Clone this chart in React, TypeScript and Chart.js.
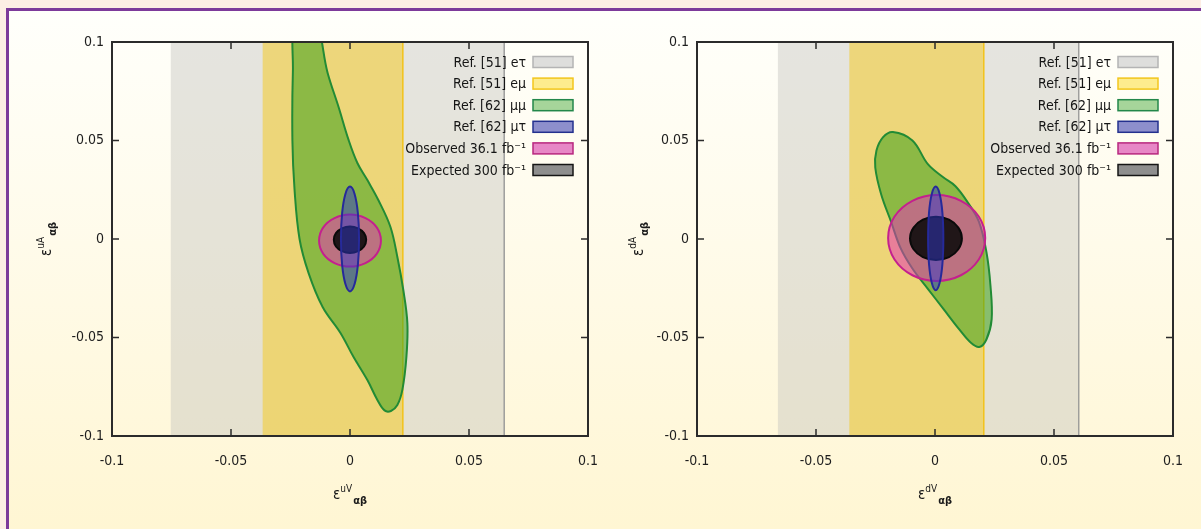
import { useEffect, useRef } from 'react';
import { Chart, registerables } from 'chart.js';

Chart.register(...registerables);

const FONT = '"DejaVu Sans Condensed", "Liberation Sans Narrow", "DejaVu Sans", sans-serif';

// ---- axis ticks ----
const xTickValues = [-0.1, -0.05, 0, 0.05, 0.1];
const xTickLabels = ['-0.1', '-0.05', '0', '0.05', '0.1'];
const yTickValues = [-0.1, -0.05, 0, 0.05, 0.1];
const yTickLabels = ['-0.1', '-0.05', '0', '0.05', '0.1'];
const innerTickValues = [-0.05, 0, 0.05];

// ---- series names ----
const seriesLabels = [
  'Ref. [51] eτ',
  'Ref. [51] eμ',
  'Ref. [62] μμ',
  'Ref. [62] μτ',
  'Observed 36.1 fb⁻¹',
  'Expected 300 fb⁻¹',
];
const swatchFill = ['#dededc', '#fdec8e', '#a6d59a', '#8d8fcc', '#e787c6', '#8e8e8e'];
const swatchEdge = ['#b4b4b4', '#f3c61c', '#23874a', '#23308e', '#b8277f', '#151515'];

// ---- left panel (u quark) ----
const leftBandET = [-0.0753, 0.0648];
const leftBandEMu = [-0.0367, 0.0222];
const leftMuMu = [
  [-0.0228, 0.112], [-0.024, 0.085], [-0.0242, 0.05], [-0.0233, 0.025], [-0.0212, 0.0],
  [-0.0174, -0.0173], [-0.0115, -0.0345], [-0.004, -0.0477], [0.0015, -0.0599], [0.0073, -0.0716],
  [0.0115, -0.0817], [0.0145, -0.087], [0.0172, -0.0873], [0.0199, -0.0843], [0.022, -0.0766],
  [0.0237, -0.0599], [0.0241, -0.0426], [0.0224, -0.0259], [0.0199, -0.0091], [0.017, 0.0061],
  [0.0119, 0.0198], [0.0073, 0.0299], [0.0031, 0.0386], [-0.0006, 0.0503], [-0.0048, 0.067],
  [-0.0094, 0.0843], [-0.015, 0.112],
];
const leftMuTau = [
  [0.0038, 0], [0.0033, 0.0133], [0.0019, 0.023], [0, 0.0266], [-0.0019, 0.023], [-0.0033, 0.0133],
  [-0.0038, 0], [-0.0033, -0.0133], [-0.0019, -0.023], [0, -0.0266], [0.0019, -0.023], [0.0033, -0.0133],
];
const leftObserved = [
  [0.013, -0.0008], [0.0113, 0.0058], [0.0065, 0.0106], [0, 0.0124], [-0.0065, 0.0106], [-0.0113, 0.0058],
  [-0.013, -0.0008], [-0.0113, -0.0074], [-0.0065, -0.0122], [0, -0.014], [0.0065, -0.0122], [0.0113, -0.0074],
];
const leftExpected = [
  [0.0068, -0.0004], [0.0059, 0.003], [0.0034, 0.0054], [0, 0.0063], [-0.0034, 0.0054], [-0.0059, 0.003],
  [-0.0068, -0.0004], [-0.0059, -0.0038], [-0.0034, -0.0062], [0, -0.0071], [0.0034, -0.0062], [0.0059, -0.0038],
];

// ---- right panel (d quark) ----
const rightBandET = [-0.066, 0.0604];
const rightBandEMu = [-0.036, 0.0205];
const rightMuMu = [
  [-0.0177, 0.0543], [-0.0095, 0.05], [-0.003, 0.038], [0.0036, 0.0312], [0.0085, 0.0269],
  [0.0134, 0.0192], [0.0184, 0.0089], [0.0216, -0.0065], [0.0233, -0.0236], [0.0238, -0.0408],
  [0.0216, -0.051], [0.0186, -0.0548], [0.0151, -0.0527], [0.0102, -0.0459], [0.0036, -0.0356],
  [-0.003, -0.0253], [-0.0095, -0.015], [-0.0144, -0.0048], [-0.0185, 0.0089], [-0.0226, 0.0226],
  [-0.0251, 0.0363], [-0.0246, 0.0449], [-0.0218, 0.0517],
];
const rightMuTau = [
  [0.0035, 0.0003], [0.0031, 0.0135], [0.0019, 0.0231], [0.0003, 0.0266], [-0.0013, 0.0231], [-0.0025, 0.0135],
  [-0.0029, 0.0003], [-0.0025, -0.0129], [-0.0013, -0.0225], [0.0003, -0.026], [0.0019, -0.0225], [0.0031, -0.0129],
];
const rightObserved = [
  [0.0211, 0.0005], [0.0184, 0.0114], [0.0109, 0.0194], [0.0007, 0.0223], [-0.0095, 0.0194], [-0.017, 0.0114],
  [-0.0197, 0.0005], [-0.017, -0.0104], [-0.0095, -0.0184], [0.0007, -0.0213], [0.0109, -0.0184], [0.0184, -0.0104],
];
const rightExpected = [
  [0.0113, 0.0003], [0.0098, 0.0058], [0.0059, 0.0098], [0.0004, 0.0113], [-0.0051, 0.0098], [-0.009, 0.0058],
  [-0.0105, 0.0003], [-0.009, -0.0052], [-0.0051, -0.0092], [0.0004, -0.0107], [0.0059, -0.0092], [0.0098, -0.0052],
];

type Pt = number[];
type PanelData = {
  bandET: number[];
  bandEMu: number[];
  muMu: Pt[];
  muTau: Pt[];
  observed: Pt[];
  expected: Pt[];
  xSup: string;
  ySup: string;
  yTitleX: number;
};

const panels: PanelData[] = [
  { bandET: leftBandET, bandEMu: leftBandEMu, muMu: leftMuMu, muTau: leftMuTau, observed: leftObserved, expected: leftExpected, xSup: 'uV', ySup: 'uA', yTitleX: 46 },
  { bandET: rightBandET, bandEMu: rightBandEMu, muMu: rightMuMu, muTau: rightMuTau, observed: rightObserved, expected: rightExpected, xSup: 'dV', ySup: 'dA', yTitleX: 53 },
];

function band(range: number[], label: string, fill: string, order: number) {
  return {
    label,
    data: [
      { x: range[0], y: -0.1 },
      { x: range[1], y: -0.1 },
      { x: range[1], y: 0.1 },
      { x: range[0], y: 0.1 },
    ],
    backgroundColor: fill,
    borderColor: 'rgba(0,0,0,0)',
    borderWidth: 0,
    fill: 'shape',
    tension: 0,
    pointRadius: 0,
    order,
  };
}

function bandEdge(range: number[], label: string, edge: string, order: number) {
  return {
    label,
    data: [
      { x: range[1], y: -0.1 },
      { x: range[1], y: 0.1 },
    ],
    borderColor: edge,
    borderWidth: 1.5,
    fill: false,
    tension: 0,
    pointRadius: 0,
    order,
  };
}

function contour(pts: Pt[], label: string, fill: string, edge: string, order: number) {
  return {
    label,
    data: pts.map(([x, y]) => ({ x, y })),
    backgroundColor: fill,
    borderColor: edge,
    borderWidth: 2,
    fill: 'shape',
    tension: 0.37,
    capBezierPoints: false,
    pointRadius: 0,
    order,
  };
}

const closedLoops = {
  id: 'closedLoops',
  afterDatasetsUpdate(chart: any) {
    chart.data.datasets.forEach((_d: any, i: number) => {
      const line = chart.getDatasetMeta(i).dataset;
      if (line) {
        line._loop = true;
        line._fullLoop = true;
        line._segments = undefined;
        line._path = undefined;
        line._pointsUpdated = false;
      }
    });
  },
};

function drawTitle(ctx: CanvasRenderingContext2D, cx: number, cy: number, rotate: boolean, sup: string) {
  ctx.save();
  ctx.translate(cx, cy);
  if (rotate) ctx.rotate(-Math.PI / 2);
  ctx.fillStyle = '#1a1a1a';
  ctx.textBaseline = 'alphabetic';
  ctx.textAlign = 'left';
  const f1 = `15px ${FONT}`;
  const f2 = `10px ${FONT}`;
  const f3 = `bold 11px ${FONT}`;
  ctx.font = f1;
  const w1 = ctx.measureText('ε').width;
  ctx.font = f2;
  const w2 = ctx.measureText(sup).width;
  ctx.font = f3;
  const w3 = ctx.measureText('αβ').width;
  const x0 = -(w1 + w2 + w3 + 1) / 2;
  ctx.font = f1;
  ctx.fillText('ε', x0, 5);
  ctx.font = f2;
  ctx.fillText(sup, x0 + w1, -2);
  ctx.font = f3;
  ctx.fillText('αβ', x0 + w1 + w2 + 1, 10);
  ctx.restore();
}

function decorPlugin(panel: PanelData) {
  return {
    id: 'decor',
    afterDraw(chart: any) {
      const { ctx, chartArea: a, scales } = chart;
      const xs = scales.x;
      const ys = scales.y;
      ctx.save();
      // frame
      ctx.strokeStyle = '#2b2b2b';
      ctx.lineWidth = 2;
      ctx.strokeRect(a.left, a.top, a.right - a.left, a.bottom - a.top);
      // inward ticks on all four sides
      ctx.lineWidth = 1.5;
      ctx.beginPath();
      const tl = 7;
      innerTickValues.forEach((v) => {
        const px = xs.getPixelForValue(v);
        ctx.moveTo(px, a.bottom);
        ctx.lineTo(px, a.bottom - tl);
        ctx.moveTo(px, a.top);
        ctx.lineTo(px, a.top + tl);
        const py = ys.getPixelForValue(v);
        ctx.moveTo(a.left, py);
        ctx.lineTo(a.left + tl, py);
        ctx.moveTo(a.right, py);
        ctx.lineTo(a.right - tl, py);
      });
      ctx.stroke();
      // legend
      const boxW = 40;
      const boxH = 11;
      const boxRight = a.right - 15;
      ctx.font = `14px ${FONT}`;
      ctx.textAlign = 'right';
      ctx.textBaseline = 'middle';
      seriesLabels.forEach((label, i) => {
        const cy = a.top + 20 + i * 21.6;
        ctx.fillStyle = swatchFill[i];
        ctx.fillRect(boxRight - boxW, cy - boxH / 2, boxW, boxH);
        ctx.strokeStyle = swatchEdge[i];
        ctx.lineWidth = 1.5;
        ctx.strokeRect(boxRight - boxW, cy - boxH / 2, boxW, boxH);
        ctx.fillStyle = '#151515';
        ctx.fillText(label, boxRight - boxW - 7, cy + 1);
      });
      ctx.restore();
      // axis titles
      drawTitle(ctx, (a.left + a.right) / 2, 494, false, panel.xSup);
      drawTitle(ctx, panel.yTitleX, (a.top + a.bottom) / 2, true, panel.ySup);
    },
  };
}

function makeChart(canvas: HTMLCanvasElement, panel: PanelData) {
  const datasets: any[] = [
    band(panel.bandET, seriesLabels[0], 'rgba(192,192,188,0.42)', 8),
    bandEdge(panel.bandET, seriesLabels[0], 'rgba(150,150,150,0.9)', 7),
    band(panel.bandEMu, seriesLabels[1], 'rgba(240,204,60,0.62)', 6),
    bandEdge(panel.bandEMu, seriesLabels[1], '#f2c21a', 5),
    contour(panel.muMu, seriesLabels[2], 'rgba(60,160,25,0.55)', '#228b35', 4),
    contour(panel.muTau, seriesLabels[3], 'rgba(45,55,200,0.5)', '#262a9a', 1),
    contour(panel.observed, seriesLabels[4], 'rgba(228,55,180,0.55)', '#c4208e', 3),
    contour(panel.expected, seriesLabels[5], 'rgba(10,10,10,0.88)', '#0a0a0a', 2),
  ];
  const tickFont = { family: FONT, size: 14 };
  return new Chart(canvas, {
    type: 'line',
    data: { datasets },
    options: {
      responsive: false,
      animation: false,
      events: [],
      layout: { padding: { left: 0, top: 42, right: 12, bottom: 0 } },
      plugins: { legend: { display: false }, tooltip: { enabled: false } },
      scales: {
        x: {
          type: 'linear',
          min: -0.1,
          max: 0.1,
          afterBuildTicks: (s: any) => {
            s.ticks = xTickValues.map((value) => ({ value }));
          },
          afterFit: (s: any) => {
            s.height = 93;
            s.paddingLeft = 0;
            s.paddingRight = 0;
          },
          grid: { display: false, drawTicks: false },
          border: { display: false },
          ticks: {
            callback: (_v: any, i: number) => xTickLabels[i],
            font: tickFont,
            color: '#1e1e1e',
            padding: 17,
            maxRotation: 0,
            autoSkip: false,
          },
        },
        y: {
          type: 'linear',
          min: -0.1,
          max: 0.1,
          afterBuildTicks: (s: any) => {
            s.ticks = yTickValues.map((value) => ({ value }));
          },
          afterFit: (s: any) => {
            s.width = 112;
            s.paddingTop = 0;
            s.paddingBottom = 0;
          },
          grid: { display: false, drawTicks: false },
          border: { display: false },
          ticks: {
            callback: (_v: any, i: number) => yTickLabels[i],
            font: tickFont,
            color: '#1e1e1e',
            padding: 8,
            autoSkip: false,
          },
        },
      },
    } as any,
    plugins: [closedLoops as any, decorPlugin(panel) as any],
  });
}

function Panel({ panel, left }: { panel: PanelData; left: number }) {
  const ref = useRef<HTMLCanvasElement>(null);
  useEffect(() => {
    if (!ref.current) return;
    const chart = makeChart(ref.current, panel);
    return () => chart.destroy();
  }, [panel]);
  return (
    <canvas
      ref={ref}
      width={600}
      height={529}
      style={{ position: 'absolute', left, top: 0, width: 600, height: 529 }}
    />
  );
}

export default function App() {
  return (
    <div
      style={{
        position: 'absolute',
        left: 0,
        top: 0,
        width: 1201,
        height: 529,
        overflow: 'hidden',
        background: '#fdeee4',
      }}
    >
      <div
        style={{
          position: 'absolute',
          left: 6,
          top: 8,
          right: 0,
          bottom: 0,
          borderLeft: '3px solid #7d3a9a',
          borderTop: '3px solid #7d3a9a',
          background: 'linear-gradient(180deg, #fffffb 0%, #fffbea 45%, #fff6d3 100%)',
        }}
      />
      <Panel panel={panels[0]} left={0} />
      <Panel panel={panels[1]} left={585} />
    </div>
  );
}
